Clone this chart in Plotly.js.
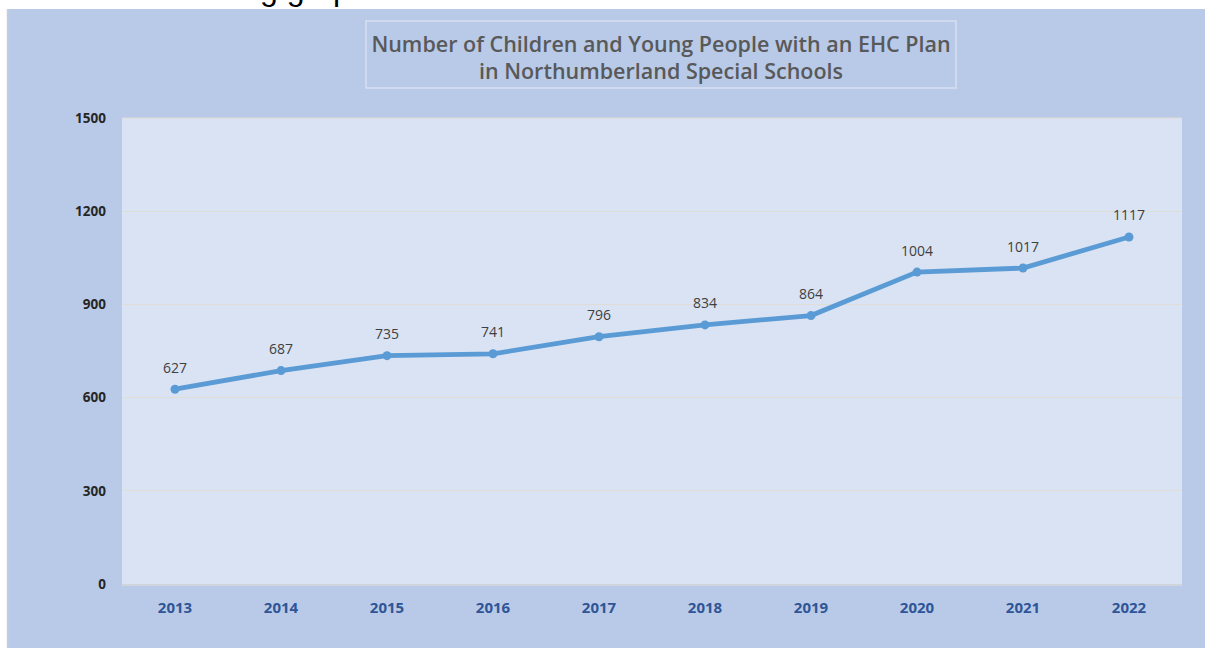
<!DOCTYPE html>
<html>
<head>
<meta charset="utf-8">
<script src="https://cdn.plot.ly/plotly-3.0.1.min.js"></script>
<style>html,body{margin:0;padding:0;background:#fff;}#chart{width:1205px;height:648px;}</style>
</head>
<body>
<div id="chart"></div>
<script>
const years = ['2013','2014','2015','2016','2017','2018','2019','2020','2021','2022'];
const plans = [627, 687, 735, 741, 796, 834, 864, 1004, 1017, 1117];
const yTicks = [0, 300, 600, 900, 1200, 1500];
const chartTitle = 'Number of Children and Young People with an EHC Plan<br>in Northumberland Special Schools';
const clippedCaption = 'g grap';

const W = 1205, H = 648;
const L = 122, R = 23, T = 118, B = 64;
const pw = W - L - R, ph = H - T - B;
const px = v => (v - L) / pw;
const py = v => (H - B - v) / ph;

const trace = {
  x: years, y: plans, type: 'scatter', mode: 'lines+markers',
  line: {color: '#5b9bd5', width: 4.8},
  marker: {color: '#5b9bd5', size: 9},
  hoverinfo: 'x+y', cliponaxis: false
};

// category axis: annotation x given as category index
const labelAnns = years.map((yr, i) => ({
  x: i, y: plans[i], xref: 'x', yref: 'y', text: String(plans[i]),
  showarrow: false, yshift: 22,
  font: {family: 'Open Sans, sans-serif', size: 14, color: '#404040'}
}));

const layout = {
  width: W, height: H,
  margin: {l: L, r: R, t: T, b: B, pad: 0},
  paper_bgcolor: '#ffffff',
  plot_bgcolor: '#dae3f3',
  showlegend: false,
  title: {
    text: chartTitle,
    x: 661 / W, xanchor: 'center',
    y: 1 - 51.5 / H, yanchor: 'middle', yref: 'container',
    font: {family: 'Open Sans, sans-serif', size: 21.5, color: '#595959', weight: 600}
  },
  xaxis: {
    type: 'category', range: [-0.5, 9.5],
    showgrid: false, zeroline: false,
    showline: true, linecolor: '#d0d4dc', linewidth: 1.5,
    ticks: '', ticklabelstandoff: 9,
    tickfont: {family: 'Open Sans, sans-serif', size: 15, color: '#2f5597', weight: 700},
    fixedrange: true
  },
  yaxis: {
    range: [0, 1500], tickvals: yTicks, ticktext: yTicks.map(String),
    showgrid: true, gridcolor: '#e0dcd6', gridwidth: 1.2,
    zeroline: false, showline: false, ticks: '',
    ticklabelstandoff: 15,
    tickfont: {family: 'Open Sans, sans-serif', size: 13.5, color: '#262626', weight: 700},
    fixedrange: true
  },
  shapes: [
    {type: 'rect', xref: 'paper', yref: 'paper', layer: 'below',
     x0: px(7), x1: px(W + 5), y0: py(H + 5), y1: py(9),
     fillcolor: '#b8cae8', line: {width: 0}},
    {type: 'rect', xref: 'paper', yref: 'paper', layer: 'below',
     x0: 0, x1: 1, y0: 0, y1: 1,
     fillcolor: '#dae3f3', line: {width: 0}},
    {type: 'line', xref: 'paper', yref: 'paper', layer: 'below',
     x0: px(7.5), x1: px(7.5), y0: py(H), y1: py(9),
     line: {color: '#c9cdd4', width: 1.5}},
    {type: 'rect', xref: 'paper', yref: 'paper', layer: 'below',
     x0: px(366), x1: px(956), y0: py(88), y1: py(21),
     fillcolor: 'rgba(0,0,0,0)', line: {color: '#d6e0f0', width: 1.5}},
    {type: 'line', xref: 'paper', yref: 'paper', layer: 'above',
     x0: 0, x1: 1, y0: 1, y1: 1,
     line: {color: '#e0dcd6', width: 1.2}}
  ],
  annotations: labelAnns.concat([{
    xref: 'paper', yref: 'paper', x: px(258), y: py(-11), xanchor: 'left', yanchor: 'middle',
    text: clippedCaption, showarrow: false,
    font: {family: 'Liberation Sans, sans-serif', size: 32, color: '#000000'}
  }])
};

Plotly.newPlot('chart', [trace], layout, {displayModeBar: false, staticPlot: true});
</script>
</body>
</html>
